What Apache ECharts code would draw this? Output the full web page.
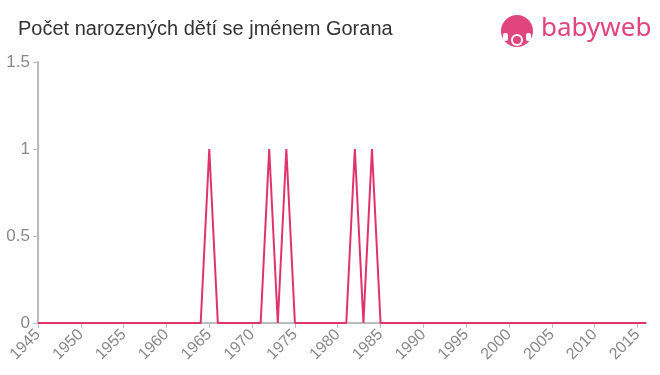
<!DOCTYPE html>
<html><head><meta charset="utf-8">
<script src="https://cdn.jsdelivr.net/npm/echarts@6/dist/echarts.min.js"></script>
<style>html,body{margin:0;padding:0;background:#fff}#c{width:660px;height:375px}</style>
</head><body><div id="c"></div>
<script>
var title = 'Počet narozených dětí se jménem Gorana';
var years = [];
for (var y = 1945; y <= 2016; y++) years.push(String(y));
var births = [
0,0,0,0,0, 0,0,0,0,0, 0,0,0,0,0, 0,0,0,0,0, // 1945-1964
1,0,0,0,0, 0,0,1,0,1, 0,0,0,0,0, 0,0,1,0,1, // 1965-1984
0,0,0,0,0, 0,0,0,0,0, 0,0,0,0,0, 0,0,0,0,0, // 1985-2004
0,0,0,0,0, 0,0,0,0,0, 0,0 // 2005-2016
];
var yTicks = [0, 0.5, 1, 1.5];
var chart = echarts.init(document.getElementById('c'));
var pink = '#e0457b';
chart.setOption({
  animation: false,
  textStyle: {fontFamily: 'Liberation Sans, Arial, sans-serif'},
  title: {text: title, left: 13, top: 14, textStyle: {fontSize: 20, fontWeight: 'normal', color: '#333', fontFamily: 'Liberation Sans, Arial, sans-serif'}},
  grid: {left: 38, right: 14, top: 62, bottom: 52},
  xAxis: {
    type: 'category', data: years, boundaryGap: false,
    axisLine: {lineStyle: {color: '#bbb', width: 2}},
    axisTick: {interval: function(i, v){return (+v) % 5 === 0;}, lineStyle: {color: '#bbb'}, length: 5},
    axisLabel: {interval: function(i, v){return (+v) % 5 === 0;}, rotate: 45, color: '#888', fontSize: 16, margin: 9},
    splitLine: {show: false}
  },
  yAxis: {
    type: 'value', min: 0, max: 1.5, interval: 0.5,
    axisLine: {show: true, lineStyle: {color: '#bbb', width: 2}},
    axisTick: {show: true, lineStyle: {color: '#bbb'}, length: 5},
    axisLabel: {color: '#888', fontSize: 17, margin: 8, formatter: function(v){return yTicks.indexOf(v) >= 0 ? String(v) : '';}},
    splitLine: {show: false}
  },
  series: [{type: 'line', data: births, symbol: 'none', lineStyle: {color: '#e0336a', width: 2}, z: 3}],
  graphic: [
    {type: 'circle', shape: {cx: 517, cy: 31, r: 16}, style: {fill: pink}},
    {type: 'circle', shape: {cx: 517, cy: 40, r: 6}, style: {fill: '#fff'}},
    {type: 'circle', shape: {cx: 517, cy: 40, r: 4}, style: {fill: pink}},
    {type: 'rect', shape: {x: 503, y: 33, width: 5, height: 8, r: 2}, style: {fill: '#fff'}},
    {type: 'rect', shape: {x: 526, y: 33, width: 5, height: 8, r: 2}, style: {fill: '#fff'}},
    {type: 'text', left: 541, top: 16, style: {text: 'babyweb', fill: pink, fontSize: 26, fontFamily: 'Noto Sans, Open Sans, sans-serif'}}
  ]
});
</script></body></html>
